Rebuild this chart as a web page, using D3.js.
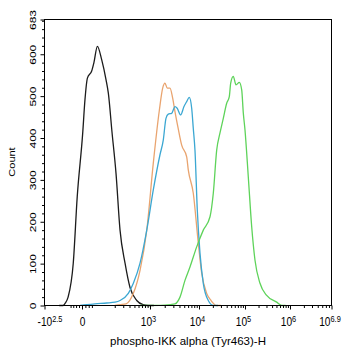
<!DOCTYPE html>
<html>
<head>
<meta charset="utf-8">
<script src="https://cdn.jsdelivr.net/npm/d3@7/dist/d3.min.js"></script>
<style>
  body { margin: 0; background: #fff; }
  text { font-family: "Liberation Sans", Arial, sans-serif; fill: #000; }
</style>
</head>
<body>
<svg id="chart" width="346" height="350"></svg>
<script>
// ---- Histogram data: fluorescence intensity vs event count ----
const isotypeX = [-140, -109, -95, -75, -45, -24, 3, 13, 24, 44, 55, 73, 98, 127, 144, 174, 213, 258, 326, 409, 554, 733, 917, 1200];
const isotypeY = [0, 0, 5, 20, 101, 260, 411, 491, 543, 560, 580, 619, 587, 539, 507, 415, 315, 180, 101, 43, 12, 2, 0, 0];

const orangeX = [200, 258, 342, 476, 642, 866, 1168, 1548, 1816, 2024, 2255, 2560, 2906, 3237, 3763, 4436, 5610, 6047, 7648, 9676, 11450, 14700, 18240, 24250, 30000];
const orangeY = [0, 2, 4, 29, 84, 180, 340, 465, 519, 531, 519, 519, 495, 463, 423, 383, 355, 324, 268, 149, 77, 29, 12, 0, 0];

const blueX = [-10, 21, 60, 132, 203, 258, 379, 476, 642, 866, 1168, 1600, 1868, 2121, 2363, 2773, 3237, 3591, 4231, 4941, 5610, 6339, 7096, 7648, 8286, 9234, 10510, 12400, 15930, 20460, 26000];
const blueY = [0, 2, 4, 6, 8, 12, 29, 53, 101, 180, 276, 360, 395, 447, 457, 459, 475, 471, 455, 475, 487, 497, 471, 423, 370, 228, 125, 53, 12, 0, 0];

const greenX = [642, 2024, 3237, 4095, 5179, 6550, 8977, 12400, 17350, 20460, 24250, 28610, 33750, 40010, 45580, 48890, 55680, 63720, 75170, 84800, 91840, 100000, 118400, 140900, 166800, 215400, 303500, 506100, 654000, 800000];
const greenY = [0, 1, 4, 20, 60, 92, 140, 180, 212, 268, 371, 412, 447, 483, 499, 531, 547, 527, 533, 515, 460, 419, 307, 188, 108, 53, 24, 8, 0, 0];

// ---- Axis ticks and labels ----
const yMax = 683;
const yTicks = [0, 100, 200, 300, 400, 500, 600, 683];
const xTickValues = [-Math.pow(10, 2.5), 0, 1e3, 1e4, 1e5, 1e6, Math.pow(10, 6.9)];
const xTickBase = ["-10", "0", "10", "10", "10", "10", "10"];
const xTickExp = ["2.5", "", "3", "4", "5", "6", "6.9"];
const xTitle = "phospho-IKK alpha (Tyr463)-H";
const yTitle = "Count";

// Display breakpoints of the biexponential axis, as fractions of plot width
const xBreakFrac = [0, 0.1307, 0.3676, 0.5383, 0.6986, 0.8554, 1];

const series = [
  { x: isotypeX, y: isotypeY, color: "#1c1c1c" },
  { x: orangeX, y: orangeY, color: "#E9A46F" },
  { x: blueX, y: blueY, color: "#3BA7D2" },
  { x: greenX, y: greenY, color: "#5ED35A" }
];

// ---- Layout ----
const plot = { left: 44.5, right: 331.5, top: 19.5, bottom: 305.5 };
const pw = plot.right - plot.left;

const svg = d3.select("#chart");

// Biexponential-like transform (arcsinh), piecewise-mapped to the axis breakpoints
const asinhT = v => Math.asinh(v / 100) / Math.LN10;
const xLin = d3.scaleLinear()
  .domain(xTickValues.map(asinhT))
  .range(xBreakFrac.map(f => plot.left + f * pw))
  .clamp(true);
const x = v => xLin(asinhT(v));

const y = d3.scaleLinear().domain([0, yMax]).range([plot.bottom, plot.top]);

// Minor ticks on x: linear region near zero, then 2..9 x 10^n
const xMinor = [-60, -45, -30, -15, 15, 30, 45, 200, 300, 400, 500, 600, 700, 800, 900];
for (let e = 3; e <= 6; e++) {
  for (let m = 2; m <= 9; m++) {
    const v = m * Math.pow(10, e);
    if (v < Math.pow(10, 6.9)) xMinor.push(v);
  }
}
const yMinor = d3.range(20, yMax, 20).filter(v => v % 100 !== 0);

// ---- Curves ----
const line = d3.line()
  .x(d => x(d[0]))
  .y(d => y(d[1]))
  .curve(d3.curveMonotoneX);

series.forEach(s => {
  svg.append("path")
    .datum(d3.zip(s.x, s.y))
    .attr("fill", "none")
    .attr("stroke", s.color)
    .attr("stroke-width", 1.3)
    .attr("stroke-linejoin", "round")
    .attr("d", line);
});

// ---- Frame ----
svg.append("rect")
  .attr("x", plot.left).attr("y", plot.top)
  .attr("width", pw).attr("height", plot.bottom - plot.top)
  .attr("fill", "none").attr("stroke", "#000").attr("stroke-width", 1);

// ---- X axis ----
const xAxisG = svg.append("g").attr("transform", `translate(0,${plot.bottom})`);
const xMinorAxis = d3.axisBottom(xLin)
  .tickValues(xMinor.map(asinhT)).tickSize(2.5).tickFormat("");
xAxisG.append("g").call(xMinorAxis).call(g => g.select(".domain").remove());

const xMajorAxis = d3.axisBottom(xLin)
  .tickValues(xTickValues.map(asinhT)).tickSize(4).tickFormat("");
const xMajor = xAxisG.append("g").call(xMajorAxis);
xMajor.select(".domain").remove();
xAxisG.selectAll("line").attr("stroke", "#000");

xMajor.selectAll(".tick").each(function (d, i) {
  const t = d3.select(this).append("text")
    .attr("y", 21)
    .attr("text-anchor", "middle")
    .attr("font-size", 13)
    .attr("transform", `translate(${i === 0 ? 5 : (i === 1 ? 0 : -2)},0) scale(0.78,1)`);
  t.append("tspan").text(xTickBase[i]);
  if (xTickExp[i]) {
    t.append("tspan").attr("dy", "-0.45em").attr("font-size", 9.5).text(xTickExp[i]);
  }
});

svg.append("text")
  .attr("x", 188).attr("y", 345)
  .attr("text-anchor", "middle")
  .attr("font-size", 11.5)
  .text(xTitle);

// ---- Y axis ----
const yAxisG = svg.append("g").attr("transform", `translate(${plot.left},0)`);
yAxisG.append("g")
  .call(d3.axisLeft(y).tickValues(yMinor).tickSize(2.5).tickFormat(""))
  .call(g => g.select(".domain").remove());
const yMajor = yAxisG.append("g")
  .call(d3.axisLeft(y).tickValues(yTicks).tickSize(4).tickFormat(""));
yMajor.select(".domain").remove();
yAxisG.selectAll("line").attr("stroke", "#000");

yMajor.selectAll(".tick").append("text")
  .attr("transform", "rotate(-90) scale(1,0.7)")
  .attr("x", 0)
  .attr("y", -9 / 0.7)
  .attr("text-anchor", "middle")
  .attr("font-size", 12)
  .text((d, i) => yTicks[i]);

svg.append("text")
  .attr("transform", `translate(15,162) rotate(-90) scale(1,0.88)`)
  .attr("text-anchor", "middle")
  .attr("font-size", 11)
  .text(yTitle);
</script>
</body>
</html>
